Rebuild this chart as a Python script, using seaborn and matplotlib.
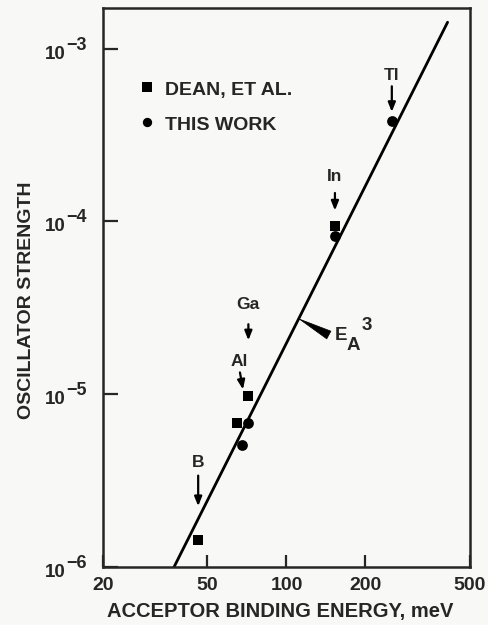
import numpy as np
import pandas as pd
import matplotlib
matplotlib.use("Agg")
import matplotlib.pyplot as plt
import matplotlib.transforms as mtransforms
import seaborn as sns

# acceptor binding energy (meV) vs oscillator strength
dean_energy = [46.1, 65.0, 71.6, 153.0]
dean_strength = [1.44e-6, 6.8e-6, 9.8e-6, 9.4e-5]
work_energy = [67.5, 71.6, 153.0, 253.0]
work_strength = [5.1e-6, 6.8e-6, 8.2e-5, 3.8e-4]

# E_A^3 line end points
line_energy = [37.3, 411.0]
line_strength = [1.0e-6, 1.42e-3]

# element labels
elements = ["B", "Al", "Ga", "In", "Tl"]
elem_label_x = [46.1, 66.0, 71.6, 153.0, 252.0]
elem_label_y = [4.03e-6, 1.545e-5, 3.31e-5, 1.81e-4, 6.98e-4]
elem_arrow_x0 = [46.1, 66.5, 71.6, 153.0, 252.0]
elem_arrow_y0 = [3.38e-6, 1.336e-5, 2.54e-5, 1.46e-4, 6.05e-4]
elem_arrow_x1 = [46.1, 68.3, 71.6, 153.0, 252.0]
elem_arrow_y1 = [2.25e-6, 1.065e-5, 2.05e-5, 1.156e-4, 4.30e-4]

x_ticks = [20, 50, 100, 200, 500]
y_ticks = [1e-6, 1e-5, 1e-4, 1e-3]
y_exponents = ["\u22126", "\u22125", "\u22124", "\u22123"]

sns.set_style("ticks")
bg = "#f8f8f6"
plt.rcParams["font.family"] = ["Liberation Sans", "DejaVu Sans"]
plt.rcParams["font.weight"] = "bold"

fig = plt.figure(figsize=(4.89, 6.25), dpi=100, facecolor=bg)
ax = fig.add_axes([0.2106, 0.0928, 0.7504, 0.8942])
ax.set_facecolor(bg)

dean = pd.DataFrame({"energy": dean_energy, "strength": dean_strength})
work = pd.DataFrame({"energy": work_energy, "strength": work_strength})
line = pd.DataFrame({"energy": line_energy, "strength": line_strength})

sns.lineplot(data=line, x="energy", y="strength", color="black", linewidth=2.0, ax=ax)
sns.scatterplot(data=dean, x="energy", y="strength", marker="s", s=55, color="black",
                linewidth=0, ax=ax, zorder=3)
sns.scatterplot(data=work, x="energy", y="strength", marker="o", s=60, color="black",
                linewidth=0, ax=ax, zorder=3)

ax.set_xscale("log")
ax.set_yscale("log")
ax.set_xlim(20, 500)
ax.set_ylim(1e-6, 10 ** -2.766)

ax.set_xticks(x_ticks)
ax.set_xticklabels([str(t) for t in x_ticks])
ax.set_yticks(y_ticks)
ax.set_yticklabels(["10"] * len(y_ticks))
ax.minorticks_off()
ax.tick_params(axis="x", direction="in", length=9, width=1.6, pad=7, labelsize=14)
ax.tick_params(axis="y", direction="in", length=11, width=1.6, pad=27, labelsize=13.5)
shift = mtransforms.ScaledTranslation(0, -2.5 / 72, fig.dpi_scale_trans)
for lbl in ax.get_xticklabels() + ax.get_yticklabels():
    lbl.set_fontweight("bold")
for lbl in ax.get_yticklabels():
    lbl.set_transform(lbl.get_transform() + shift)
for sp in ax.spines.values():
    sp.set_linewidth(1.8)
    sp.set_visible(True)

# exponents of the y tick labels
for yt, ex in zip(y_ticks, y_exponents):
    ax.annotate(ex, xy=(0, yt), xycoords=("axes fraction", "data"), xytext=(-26.5, 2.5),
                textcoords="offset points", ha="left", va="center",
                fontsize=13, fontweight="bold", annotation_clip=False)

ax.set_xlabel("ACCEPTOR BINDING ENERGY, meV", fontsize=14.5, fontweight="bold")
ax.xaxis.set_label_coords(0.482, -0.063)
ax.set_ylabel("OSCILLATOR STRENGTH", fontsize=14, fontweight="bold")
ax.yaxis.set_label_coords(-0.184, 0.478)

# element arrows
for name, lx, ly, x0, y0, x1, y1 in zip(elements, elem_label_x, elem_label_y,
                                        elem_arrow_x0, elem_arrow_y0,
                                        elem_arrow_x1, elem_arrow_y1):
    ax.annotate("", xy=(x1, y1), xytext=(x0, y0),
                arrowprops=dict(arrowstyle="-|>,head_length=0.55,head_width=0.22",
                                color="black", lw=1.6, shrinkA=0, shrinkB=0))
    ax.text(lx, ly, name, ha="center", va="center", fontsize=12.5, fontweight="bold")

# E_A^3 pointer
ax.annotate("", xy=(112, 2.72e-5), xytext=(145, 2.2e-5),
            arrowprops=dict(arrowstyle="wedge,tail_width=0.45,shrink_factor=0.5",
                            mutation_scale=14, color="black", lw=0.5,
                            shrinkA=0, shrinkB=0))
ax.text(153, 2.2e-5, "E", ha="left", va="center", fontsize=13.5, fontweight="bold")
ax.annotate("A", xy=(153, 2.2e-5), xytext=(8.6, -7.2), textcoords="offset points",
            ha="left", va="center", fontsize=13.5, fontweight="bold")
ax.annotate("3", xy=(153, 2.2e-5), xytext=(19.5, 6.8), textcoords="offset points",
            ha="left", va="center", fontsize=13.5, fontweight="bold")

# legend
ax.scatter([29.4], [5.96e-4], marker="s", s=50, color="black", linewidth=0)
ax.text(34.4, 5.7e-4, "DEAN, ET AL.", fontsize=14, fontweight="bold", va="center")
ax.scatter([29.4], [3.76e-4], marker="o", s=45, color="black", linewidth=0)
ax.text(34.4, 3.6e-4, "THIS WORK", fontsize=14, fontweight="bold", va="center")

fig.savefig("out.png", dpi=100, facecolor=bg)
